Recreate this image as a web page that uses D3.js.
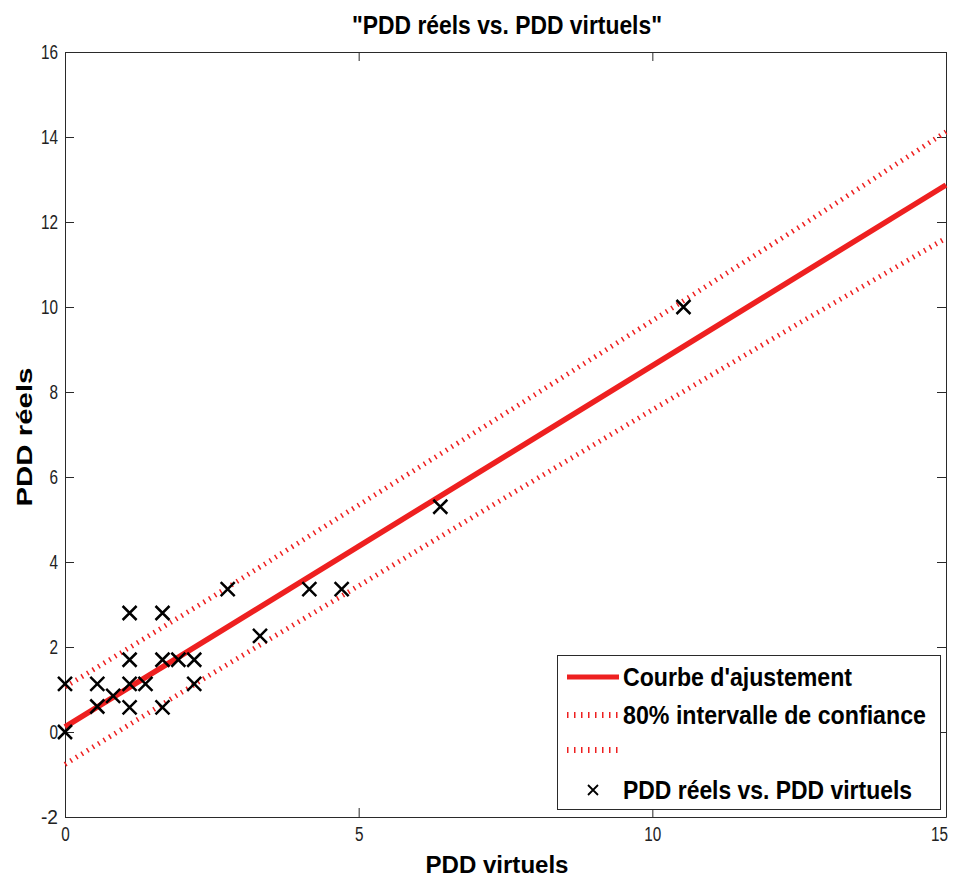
<!DOCTYPE html>
<html lang="fr">
<head>
<meta charset="UTF-8">
<title>PDD réels vs. PDD virtuels</title>
<style>
    body { margin: 0; background: #fff; }
    text { font-family: "Liberation Sans", Arial, sans-serif; }
</style>
</head>
<body>
<div class="canvas"></div>
<script src="https://d3js.org/d3.v7.min.js"></script>
<script>
    // points mesurés
    const virtuels = [0, 0, 0.55, 0.55, 0.82, 1.1, 1.1, 1.1, 1.1, 1.37, 1.66, 1.66, 1.66, 1.93, 2.2, 2.2, 2.77, 3.32, 4.16, 4.71, 6.39, 10.53];
    const reels    = [0, 1.13, 1.13, 0.6, 0.85, 0.58, 1.13, 1.7, 2.8, 1.13, 2.8, 1.7, 0.58, 1.7, 1.7, 1.13, 3.36, 2.26, 3.36, 3.36, 5.3, 10.0];

    // droite d'ajustement
    const fitX = [0, 15];
    const fitY = [0.12, 12.87];

    // intervalle de confiance 80%
    const bandX    = [0, 2.5, 5, 7.5, 10, 12.5, 15];
    const bandHaut = [1.06, 3.17, 5.34, 7.5, 9.68, 11.88, 14.12];
    const bandBas  = [-0.76, 1.37, 3.44, 5.52, 7.58, 9.62, 11.62];

    const xTicks = [0, 5, 10, 15];
    const yTicks = [-2, 0, 2, 4, 6, 8, 10, 12, 14, 16];

    const legendLabels = ["Courbe d'ajustement", "80% intervalle de confiance", "", "PDD réels vs. PDD virtuels"];

    const svgWidth = 955;
    const svgHeight = 877;
    const plot = { left: 65, right: 946, top: 52, bottom: 817 };
    const red = '#ee2020';

    const svg = d3.select('.canvas').append('svg')
        .attr('width', svgWidth)
        .attr('height', svgHeight)
        .style('display', 'block');

    svg.append('rect').attr('width', svgWidth).attr('height', svgHeight).attr('fill', '#fff');

    const x = d3.scaleLinear().domain([0, 15]).range([plot.left, plot.right]);
    const y = d3.scaleLinear().domain([-2, 16]).range([plot.bottom, plot.top]);

    // axes (ticks vers l'intérieur, boîte complète)
    const styleAxis = g => {
        g.selectAll('path, line').attr('stroke', '#2a2a2a').attr('stroke-width', 1);
        g.selectAll('text')
            .attr('font-size', 20)
            .attr('fill', '#222')
            .attr('textLength', d => String(d).length * 8.5)
            .attr('lengthAdjust', 'spacingAndGlyphs');
    };
    const fmt = d => String(d);

    const xAxisGroup = svg.append('g')
        .attr('transform', `translate(0, ${plot.bottom})`)
        .call(d3.axisBottom(x).tickValues(xTicks).tickFormat(fmt).tickSizeInner(-9).tickSizeOuter(0).tickPadding(10))
        .call(styleAxis);
    // le dernier libellé touche le bord droit
    xAxisGroup.selectAll('.tick text').filter(d => d === 15).attr('dx', -7);

    svg.append('g')
        .attr('transform', `translate(0, ${plot.top})`)
        .call(d3.axisTop(x).tickValues(xTicks).tickSizeInner(-9).tickSizeOuter(0).tickFormat(''))
        .call(styleAxis);
    svg.append('g')
        .attr('transform', `translate(${plot.left}, 0)`)
        .call(d3.axisLeft(y).tickValues(yTicks).tickFormat(fmt).tickSizeInner(-9).tickSizeOuter(0).tickPadding(7))
        .call(styleAxis);
    svg.append('g')
        .attr('transform', `translate(${plot.right}, 0)`)
        .call(d3.axisRight(y).tickValues(yTicks).tickSizeInner(-9).tickSizeOuter(0).tickFormat(''))
        .call(styleAxis);

    // courbes
    const line = d3.line().x(d => x(d[0])).y(d => y(d[1]));

    svg.append('path')
        .datum(bandX.map((v, i) => [v, bandHaut[i]]))
        .attr('d', line)
        .attr('fill', 'none')
        .attr('stroke', red)
        .attr('stroke-width', 5)
        .attr('stroke-dasharray', '1.5,5');
    svg.append('path')
        .datum(bandX.map((v, i) => [v, bandBas[i]]))
        .attr('d', line)
        .attr('fill', 'none')
        .attr('stroke', red)
        .attr('stroke-width', 5)
        .attr('stroke-dasharray', '1.5,5');
    svg.append('path')
        .datum(fitX.map((v, i) => [v, fitY[i]]))
        .attr('d', line)
        .attr('fill', 'none')
        .attr('stroke', red)
        .attr('stroke-width', 5.5);

    // marqueurs x
    const cross = s => `M${-s},${-s}L${s},${s}M${-s},${s}L${s},${-s}`;
    svg.append('g').selectAll('path')
        .data(virtuels.map((v, i) => [v, reels[i]]))
        .enter()
        .append('path')
        .attr('transform', d => `translate(${x(d[0])}, ${y(d[1])})`)
        .attr('d', cross(7))
        .attr('stroke', '#000')
        .attr('stroke-width', 2.5)
        .attr('fill', 'none');

    // titres
    svg.append('text')
        .attr('x', 507).attr('y', 34)
        .attr('text-anchor', 'middle')
        .attr('font-size', 25).attr('font-weight', 'bold')
        .attr('textLength', 310).attr('lengthAdjust', 'spacingAndGlyphs')
        .text('"PDD réels vs. PDD virtuels"');
    svg.append('text')
        .attr('x', 497).attr('y', 873)
        .attr('text-anchor', 'middle')
        .attr('font-size', 23).attr('font-weight', 'bold')
        .attr('textLength', 143).attr('lengthAdjust', 'spacingAndGlyphs')
        .text('PDD virtuels');
    svg.append('text')
        .attr('transform', 'translate(32, 437) rotate(-90)')
        .attr('text-anchor', 'middle')
        .attr('font-size', 22).attr('font-weight', 'bold')
        .attr('textLength', 139).attr('lengthAdjust', 'spacingAndGlyphs')
        .text('PDD réels');

    // légende
    const legend = svg.append('g');
    legend.append('rect')
        .attr('x', 557.5).attr('y', 655.5)
        .attr('width', 383).attr('height', 154)
        .attr('fill', '#fff')
        .attr('stroke', '#2a2a2a')
        .attr('stroke-width', 1);

    const rowY = [677, 715, 750, 790];
    const labelWidths = [229, 303, 0, 289];

    legend.append('line')
        .attr('x1', 567).attr('x2', 619).attr('y1', rowY[0]).attr('y2', rowY[0])
        .attr('stroke', red).attr('stroke-width', 5);
    [1, 2].forEach(i => {
        legend.append('line')
            .attr('x1', 567).attr('x2', 619).attr('y1', rowY[i]).attr('y2', rowY[i])
            .attr('stroke', red).attr('stroke-width', 6)
            .attr('stroke-dasharray', '1.5,5.5');
    });
    legend.append('path')
        .attr('transform', `translate(593, ${rowY[3]})`)
        .attr('d', cross(5))
        .attr('stroke', '#000').attr('stroke-width', 1.8);

    legendLabels.forEach((label, i) => {
        if (!label) return;
        legend.append('text')
            .attr('x', 623).attr('y', rowY[i] + 9)
            .attr('font-size', 25).attr('font-weight', 'bold')
            .attr('textLength', labelWidths[i]).attr('lengthAdjust', 'spacingAndGlyphs')
            .text(label);
    });
</script>
</body>
</html>
